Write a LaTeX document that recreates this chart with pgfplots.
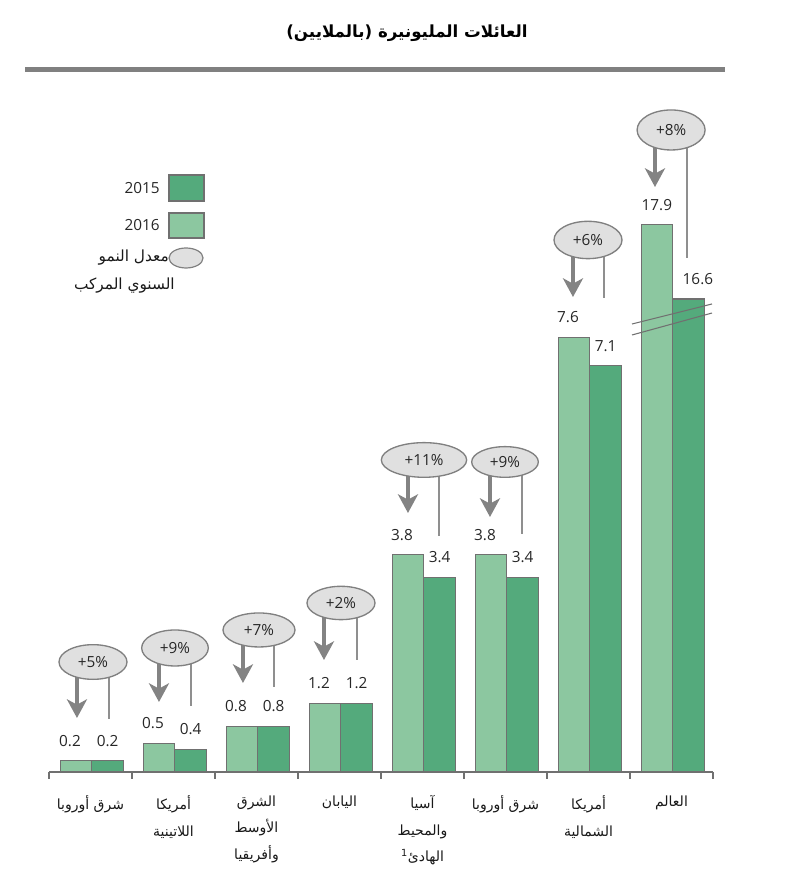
\documentclass[border=0pt]{standalone}
\usepackage{pgfplots}
\pgfplotsset{compat=1.18}
\usepackage{fontspec}
\setmainfont{Open Sans}
\newfontfamily\arabicfont[Script=Arabic]{DejaVu Sans}
\TeXXeTstate=1
\usetikzlibrary{arrows.meta,shapes.geometric}
\definecolor{lightg}{HTML}{8CC7A0}
\definecolor{darkg}{HTML}{54AA7C}
\definecolor{edgeg}{HTML}{707070}
\definecolor{bub}{HTML}{E0E0E0}
\definecolor{bubedge}{HTML}{808080}
\definecolor{arr}{HTML}{838383}
\begin{document}
\begin{tikzpicture}
\begin{axis}[
  x=62.25pt, y=42.9pt,
  xmin=-0.5, xmax=7.5, ymin=0, ymax=13.4,
  clip=false,
  axis x line=bottom, axis y line=none,
  x axis line style={-, draw=edgeg, line width=1.1pt},
  xtick={0,...,7},
  xticklabels={
    {\arabicfont\beginR شرق أوروبا\endR},
    {\arabicfont\beginR أمريكا\endR\\\arabicfont\beginR اللاتينية\endR},
    {\arabicfont\beginR الشرق\endR\\\arabicfont\beginR الأوسط\endR\\\arabicfont\beginR وأفريقيا\endR},
    {\arabicfont\beginR اليابان\endR},
    {\arabicfont\beginR آسيا\endR\\\arabicfont\beginR والمحيط\endR\\\arabicfont\beginR الهادئ\textsuperscript{1}\endR},
    {\arabicfont\beginR شرق أوروبا\endR},
    {\arabicfont\beginR أمريكا\endR\\\arabicfont\beginR الشمالية\endR},
    {\arabicfont\beginR العالم\endR}},
  major x tick style={draw=none},
  major tick length=0pt,
  minor xtick={-0.5,0.5,...,7.5},
  minor x tick style={draw=edgeg, line width=0.8pt},
  tick align=outside,
  minor tick length=5pt,
  xticklabel style={font=\fontsize{10.5}{20}\selectfont, align=center, yshift=-14pt, text=black!90},
  point meta=explicit symbolic,
  nodes near coords,
  every node near coord/.append style={font=\fontsize{11.5}{13}\selectfont, anchor=center, yshift=15pt, text=black!85},
]
% 2016 (light)
\addplot[ybar, bar width=0.38, bar shift=-0.175, fill=lightg, draw=edgeg, line width=0.9pt,
  every node near coord/.append style={xshift=-15.4pt}]
  coordinates {(0,0.2)[0.2] (1,0.5)[0.5] (2,0.8)[0.8] (3,1.2)[1.2] (4,3.8)[3.8] (5,3.8)[3.8] (6,7.6)[7.6]};
% 2015 (dark)
\addplot[ybar, bar width=0.38, bar shift=0.205, fill=darkg, draw=edgeg, line width=0.9pt,
  every node near coord/.append style={xshift=12.8pt}]
  coordinates {(0,0.2)[0.2] (1,0.4)[0.4] (2,0.8)[0.8] (3,1.2)[1.2] (4,3.4)[3.4] (5,3.4)[3.4] (6,7.1)[7.1]};
% World (broken axis, shifted down by 8.33)
\addplot[ybar, bar width=0.38, bar shift=-0.175, fill=lightg, draw=edgeg, line width=0.9pt,
  y filter/.expression={y-8.33}, every node near coord/.append style={xshift=-11pt}]
  coordinates {(7,17.9)[17.9]};
\addplot[ybar, bar width=0.38, bar shift=0.205, fill=darkg, draw=edgeg, line width=0.9pt,
  y filter/.expression={y-8.33}, every node near coord/.append style={xshift=19.8pt}]
  coordinates {(7,16.6)[16.6]};

% break marks
\draw[edgeg, line width=0.8pt] (axis cs:6.524,7.832) -- (axis cs:7.488,8.182);
\draw[edgeg, line width=0.8pt] (axis cs:6.524,7.640) -- (axis cs:7.488,8.024);

% arrows and thin lines
\tikzset{gar/.style={arr, line width=2.6pt, -{Stealth[width=15pt,length=14pt,inset=4pt]}},
         thl/.style={arr!90, line width=1.5pt},
         bb/.style={ellipse, draw=bubedge, fill=bub, line width=1pt, inner sep=0pt, font=\fontsize{11.5}{13}\selectfont, text=black!85}}
\draw[gar] (axis cs:-0.163,1.923) -- (axis cs:-0.163,0.944);
\draw[thl] (axis cs:0.223,1.923) -- (axis cs:0.223,0.927);
\draw[gar] (axis cs:0.825,2.168) -- (axis cs:0.825,1.224);
\draw[thl] (axis cs:1.211,2.168) -- (axis cs:1.211,1.154);
\draw[gar] (axis cs:1.837,2.483) -- (axis cs:1.837,1.556);
\draw[thl] (axis cs:2.211,2.483) -- (axis cs:2.211,1.486);
\draw[gar] (axis cs:2.813,2.955) -- (axis cs:2.813,1.958);
\draw[thl] (axis cs:3.211,2.955) -- (axis cs:3.211,1.958);
\draw[gar] (axis cs:3.825,5.455) -- (axis cs:3.825,4.528);
\draw[thl] (axis cs:4.199,5.455) -- (axis cs:4.199,4.126);
\draw[gar] (axis cs:4.813,5.420) -- (axis cs:4.813,4.458);
\draw[thl] (axis cs:5.199,5.420) -- (axis cs:5.199,4.161);
\draw[gar] (axis cs:5.813,9.301) -- (axis cs:5.813,8.304);
\draw[thl] (axis cs:6.187,9.301) -- (axis cs:6.187,8.287);
\draw[gar] (axis cs:6.801,11.224) -- (axis cs:6.801,10.227);
\draw[thl] (axis cs:7.187,11.224) -- (axis cs:7.187,8.986);

% bubbles
\node[bb, minimum width=51pt, minimum height=26pt] at (axis cs:0.030,1.923) {+5\%};
\node[bb, minimum width=50pt, minimum height=27pt] at (axis cs:1.018,2.168) {+9\%};
\node[bb, minimum width=54pt, minimum height=25.5pt] at (axis cs:2.030,2.483) {+7\%};
\node[bb, minimum width=51pt, minimum height=25pt] at (axis cs:3.018,2.955) {+2\%};
\node[bb, minimum width=64pt, minimum height=26pt] at (axis cs:4.018,5.455) {+11\%};
\node[bb, minimum width=50pt, minimum height=23pt] at (axis cs:4.994,5.420) {+9\%};
\node[bb, minimum width=51pt, minimum height=28pt] at (axis cs:5.994,9.301) {+6\%};
\node[bb, minimum width=51pt, minimum height=30pt] at (axis cs:6.995,11.224) {+8\%};

% legend
\fill[darkg, draw=edgeg, line width=0.9pt] (axis cs:0.946,10.437) rectangle (axis cs:1.367,9.983);
\fill[lightg, draw=edgeg, line width=0.9pt] (axis cs:0.946,9.773) rectangle (axis cs:1.367,9.336);
\node[ellipse, draw=bubedge, fill=bub, line width=0.9pt, minimum width=25.5pt, minimum height=15pt, inner sep=0pt] at (axis cs:1.151,8.986) {};
\node[anchor=east, font=\fontsize{11.5}{13}\selectfont, text=black!85, inner sep=0pt] at (axis cs:0.837,10.210) {2015};
\node[anchor=east, font=\fontsize{11.5}{13}\selectfont, text=black!85, inner sep=0pt] at (axis cs:0.837,9.563) {2016};
\node[anchor=east, font=\fontsize{11.5}{13}\selectfont, text=black!90, inner sep=0pt] at (axis cs:0.946,8.986) {\arabicfont\beginR معدل النمو\endR};
\node[anchor=east, font=\fontsize{11.5}{13}\selectfont, text=black!90, inner sep=0pt] at (axis cs:1.018,8.497) {\arabicfont\beginR السنوي المركب\endR};

% title and rule
\node[font=\fontsize{12.5}{15}\selectfont\bfseries] at (axis cs:3.813,12.920) {\arabicfont\beginR العائلات المليونيرة (بالملايين)\endR};
\draw[bubedge, line width=3.75pt] (axis cs:-0.789,12.273) -- (axis cs:7.645,12.273);

\coordinate (BL) at (axis cs:-1.0904,-2.0105);
\coordinate (TR) at (axis cs:8.4398,13.4965);
\end{axis}
\pgfresetboundingbox
\path[use as bounding box] (BL) rectangle (TR);
\end{tikzpicture}
\end{document}
